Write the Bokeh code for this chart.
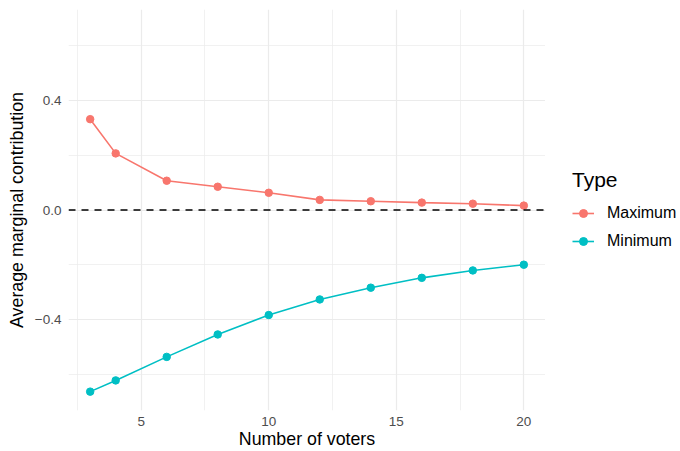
from bokeh.plotting import figure
from bokeh.layouts import row
from bokeh.models import Range1d, FixedTicker, CustomJSTickFormatter, Legend, LegendItem, Span
from bokeh.embed import file_html
from bokeh.resources import INLINE

# Data
voters = [3, 4, 6, 8, 10, 12, 14, 16, 18, 20]
maximum = [0.332, 0.207, 0.107, 0.085, 0.063, 0.037, 0.032, 0.027, 0.023, 0.016]
minimum = [-0.664, -0.623, -0.537, -0.455, -0.384, -0.327, -0.284, -0.248, -0.221, -0.200]
series_names = ["Maximum", "Minimum"]
series_colors = ["#F8766D", "#00BFC4"]
x_ticks = [5, 10, 15, 20]
x_minor = [2.5, 7.5, 12.5, 17.5]
y_ticks = [-0.4, 0.0, 0.4]
y_minor = [-0.6, -0.2, 0.2, 0.6]

FONT = "Liberation Sans"

p = figure(width=545, height=451, output_backend="svg", toolbar_location=None,
           x_range=Range1d(2.15, 20.85), y_range=Range1d(-0.733, 0.733),
           min_border_left=68, min_border_right=0, min_border_top=9, min_border_bottom=41)
p.outline_line_color = None
p.background_fill_color = "white"
p.border_fill_color = "white"

# grids
for g in (p.xgrid, p.ygrid):
    g.grid_line_color = "#EBEBEB"
    g.grid_line_width = 1.2
    g.minor_grid_line_color = "#EBEBEB"
    g.minor_grid_line_width = 0.7
p.xgrid.ticker = FixedTicker(ticks=x_ticks, minor_ticks=x_minor)
p.ygrid.ticker = FixedTicker(ticks=y_ticks, minor_ticks=y_minor)

# axes
p.xaxis.ticker = FixedTicker(ticks=x_ticks, minor_ticks=x_minor)
p.yaxis.ticker = FixedTicker(ticks=y_ticks, minor_ticks=y_minor)
p.yaxis.formatter = CustomJSTickFormatter(code="return tick.toFixed(1).replace('-', '\u2212');")
for ax in (p.xaxis[0], p.yaxis[0]):
    ax.axis_line_color = None
    ax.major_tick_line_color = None
    ax.minor_tick_line_color = None
    ax.major_tick_out = 0
    ax.minor_tick_out = 0
    ax.major_label_text_font = FONT
    ax.major_label_text_font_size = "13.5px"
    ax.major_label_text_color = "#4D4D4D"
    ax.axis_label_text_font = FONT
    ax.axis_label_text_font_size = "17.8px"
    ax.axis_label_text_font_style = "normal"
    ax.axis_label_text_color = "black"
p.xaxis.axis_label = "Number of voters"
p.yaxis.axis_label = "Average marginal contribution"
p.xaxis.major_label_standoff = 6
p.xaxis.axis_label_standoff = 0
p.yaxis.major_label_standoff = 7
p.yaxis.axis_label_standoff = 5

# zero line
p.add_layout(Span(location=0, dimension="width", line_color="black",
                  line_dash="7 6", line_width=1.6))

for vals, col in zip([maximum, minimum], series_colors):
    p.line(voters, vals, line_color=col, line_width=1.6)
    p.scatter(voters, vals, size=7.5, fill_color=col, line_color=col)

# legend panel (separate figure to the right); its renderers lie outside its view
lg = figure(width=135, height=451, output_backend="svg", toolbar_location=None,
            x_axis_type=None, y_axis_type=None,
            x_range=Range1d(100, 101), y_range=Range1d(100, 101),
            min_border_left=0, min_border_right=0, min_border_top=0, min_border_bottom=0)
lg.outline_line_color = None
lg.background_fill_color = "white"
lg.border_fill_color = "white"
items = []
for name, vals, col in zip(series_names, [maximum, minimum], series_colors):
    l = lg.line(voters, vals, line_color=col, line_width=1.6)
    s = lg.scatter(voters, vals, size=7.5, fill_color=col, line_color=col)
    items.append(LegendItem(label=name, renderers=[l, s]))

legend = Legend(items=items, location=(27, 159), title="Type",
                title_text_font=FONT, title_text_font_size="21px", title_text_color="black",
                title_text_font_style="normal", title_standoff=11,
                label_text_font=FONT, label_text_font_size="16px", label_text_color="black",
                glyph_width=22, glyph_height=20, label_standoff=13, spacing=8,
                padding=6, margin=0,
                border_line_color=None, background_fill_alpha=0)
lg.add_layout(legend)

layout = row(p, lg, spacing=0)
open("out.html", "w").write(file_html(layout, INLINE))
